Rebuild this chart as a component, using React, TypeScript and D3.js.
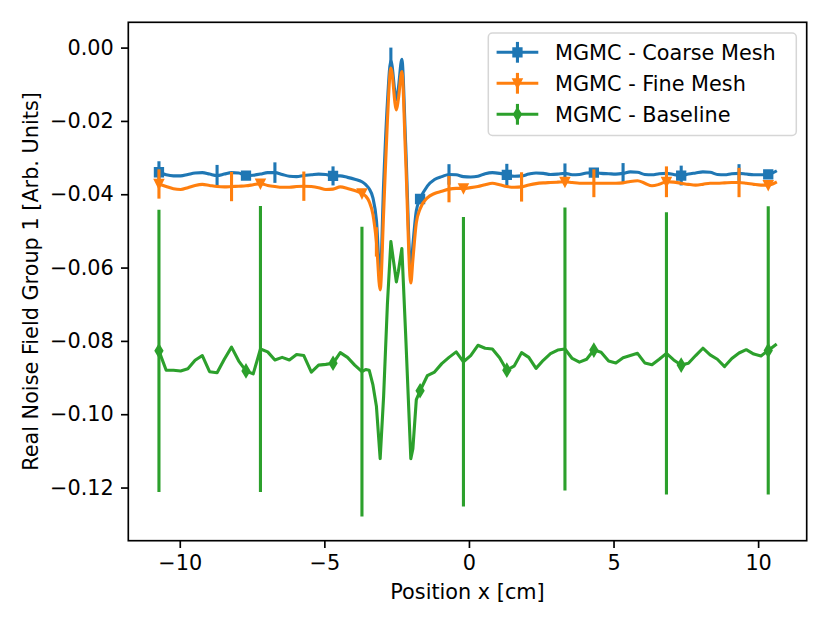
import React, { useEffect, useRef } from 'react';
import * as d3 from 'd3';

// positions along x [cm]; ~0.25 cm grid with a few extra points through the central dip
const positions = [
  -10.72, -10.47, -10.22, -9.97, -9.72, -9.47, -9.22, -8.97, -8.71, -8.46,
  -8.21, -7.96, -7.71, -7.46, -7.21, -6.96, -6.71, -6.46, -6.21, -5.96,
  -5.71, -5.45, -5.2, -4.95, -4.7, -4.45, -4.2, -3.95, -3.7, -3.57,
  -3.45, -3.32, -3.2, -3.07, -2.95, -2.82, -2.7, -2.51, -2.44, -2.32,
  -2.19, -2.01, -1.94, -1.82, -1.69, -1.44, -1.19, -0.94, -0.69, -0.44,
  -0.19, 0.06, 0.31, 0.56, 0.81, 1.06, 1.31, 1.57, 1.82, 2.07,
  2.32, 2.57, 2.82, 3.07, 3.32, 3.57, 3.82, 4.07, 4.32, 4.57,
  4.83, 5.08, 5.33, 5.58, 5.83, 6.08, 6.33, 6.58, 6.83, 7.08,
  7.34, 7.59, 7.84, 8.09, 8.34, 8.59, 8.84, 9.09, 9.34, 9.59,
  9.85, 10.1, 10.35, 10.6,
];

const coarse = [
  -0.0340, -0.0347, -0.0350, -0.0350, -0.0346, -0.0342, -0.0341, -0.0345, -0.0349, -0.0345,
  -0.0341, -0.0342, -0.0349, -0.0348, -0.0345, -0.0341, -0.0341, -0.0346, -0.0351, -0.0352,
  -0.0349, -0.0347, -0.0345, -0.0346, -0.0350, -0.0350, -0.0354, -0.0359, -0.0366, -0.0374,
  -0.0385, -0.0410, -0.0470, -0.0625, -0.0370, -0.0150, -0.0035, -0.0143, -0.0110, -0.0032,
  -0.0260, -0.0607, -0.0540, -0.0445, -0.0413, -0.0378, -0.0360, -0.0352, -0.0346, -0.0347,
  -0.0352, -0.0353, -0.0351, -0.0344, -0.0341, -0.0343, -0.0347, -0.0351, -0.0350, -0.0345,
  -0.0342, -0.0343, -0.0346, -0.0345, -0.0343, -0.0347, -0.0346, -0.0342, -0.0341, -0.0343,
  -0.0344, -0.0345, -0.0343, -0.0339, -0.0340, -0.0346, -0.0347, -0.0344, -0.0343, -0.0346,
  -0.0349, -0.0345, -0.0342, -0.0339, -0.0340, -0.0346, -0.0347, -0.0344, -0.0343, -0.0345,
  -0.0347, -0.0347, -0.0346, -0.0338,
];

const fine = [
  -0.0372, -0.0379, -0.0385, -0.0387, -0.0382, -0.0376, -0.0373, -0.0376, -0.0379, -0.0380,
  -0.0379, -0.0378, -0.0377, -0.0374, -0.0371, -0.0376, -0.0379, -0.0381, -0.0381, -0.0379,
  -0.0378, -0.0379, -0.0382, -0.0387, -0.0386, -0.0380, -0.0384, -0.0390, -0.0398, -0.0405,
  -0.0420, -0.0455, -0.0530, -0.0661, -0.0450, -0.0200, -0.0056, -0.0170, -0.0140, -0.0065,
  -0.0300, -0.0642, -0.0580, -0.0478, -0.0440, -0.0410, -0.0398, -0.0392, -0.0386, -0.0384,
  -0.0384, -0.0382, -0.0379, -0.0374, -0.0370, -0.0374, -0.0379, -0.0381, -0.0380, -0.0375,
  -0.0371, -0.0369, -0.0368, -0.0367, -0.0366, -0.0368, -0.0370, -0.0370, -0.0370, -0.0370,
  -0.0370, -0.0370, -0.0369, -0.0365, -0.0363, -0.0370, -0.0377, -0.0373, -0.0366, -0.0367,
  -0.0370, -0.0373, -0.0375, -0.0373, -0.0370, -0.0370, -0.0369, -0.0368, -0.0368, -0.0370,
  -0.0373, -0.0375, -0.0375, -0.0368,
];

const baseline = [
  -0.0827, -0.0880, -0.0880, -0.0882, -0.0876, -0.0853, -0.0840, -0.0884, -0.0887, -0.0850,
  -0.0817, -0.0855, -0.0882, -0.0890, -0.0822, -0.0830, -0.0852, -0.0845, -0.0852, -0.0837,
  -0.0840, -0.0885, -0.0866, -0.0864, -0.0861, -0.0832, -0.0845, -0.0866, -0.0884, -0.0878,
  -0.0880, -0.0920, -0.0978, -0.1121, -0.0950, -0.0700, -0.0529, -0.0639, -0.0610, -0.0548,
  -0.0780, -0.1121, -0.1095, -0.0960, -0.0936, -0.0895, -0.0885, -0.0862, -0.0845, -0.0830,
  -0.0857, -0.0840, -0.0812, -0.0820, -0.0822, -0.0846, -0.0880, -0.0868, -0.0832, -0.0845,
  -0.0875, -0.0853, -0.0835, -0.0825, -0.0822, -0.0848, -0.0858, -0.0850, -0.0825, -0.0831,
  -0.0855, -0.0860, -0.0846, -0.0840, -0.0834, -0.0860, -0.0865, -0.0850, -0.0834, -0.0852,
  -0.0866, -0.0861, -0.0840, -0.0820, -0.0838, -0.0850, -0.0870, -0.0848, -0.0833, -0.0824,
  -0.0836, -0.0841, -0.0826, -0.0811,
];

// where markers and error bars sit, and the half-widths of the bars
const coarseMarkX = [-10.72, -7.71, -4.7, -1.69, 1.31, 4.32, 7.34, 10.35];
const coarseErrX = [-10.72, -8.71, -6.71, -4.7, -2.7, -0.69, 1.31, 3.32, 5.33, 7.34, 9.34];
const coarseErr = [0.003, 0.0029, 0.0028, 0.0026, 0.0035, 0.0028, 0.003, 0.0027, 0.0028, 0.0027, 0.0025];

const fineMarkX = [-10.72, -7.21, -3.7, -0.19, 3.32, 6.83, 10.35];
const fineErrX = [-10.72, -8.21, -5.71, -3.2, -0.69, 1.82, 4.32, 6.83, 9.34];
const fineErr = [0.004, 0.004, 0.004, 0.004, 0.0036, 0.004, 0.0038, 0.0042, 0.004];

const baseMarkX = [-10.72, -7.71, -4.7, -1.69, 1.31, 4.32, 7.34, 10.35];
const baseErrX = [-10.72, -7.21, -3.7, -0.19, 3.32, 6.83, 10.35];
const baseErr = [0.0385, 0.039, 0.0395, 0.0395, 0.0386, 0.0385, 0.0393];

const xTicks = [-10, -5, 0, 5, 10];
const yTicks = [0, -0.02, -0.04, -0.06, -0.08, -0.1, -0.12];

const width = 830;
const height = 623;
const plot = { left: 128.3, right: 806.7, top: 22.3, bottom: 540.7 };
const FONT = "'DejaVu Sans', sans-serif";
const FS = 20.8;
const LW = 3.1;

const markerPath = (kind: string) => {
  if (kind === 'square') return 'M-4.15,-4.15H4.15V4.15H-4.15Z';
  if (kind === 'tri') return 'M0,4.15L-4.15,-4.15L4.15,-4.15Z';
  return 'M0,-5.9L3.5,0L0,5.9L-3.5,0Z';
};

const App: React.FC = () => {
  const svgRef = useRef<SVGSVGElement>(null);

  useEffect(() => {
    const svg = d3.select(svgRef.current);
    svg.selectAll('*').remove();

    const x = d3.scaleLinear().domain([-11.78, 11.68]).range([plot.left, plot.right]);
    const y = d3.scaleLinear().domain([-0.1345, 0.0069]).range([plot.bottom, plot.top]);

    const series = [
      { name: 'MGMC - Coarse Mesh', color: '#1f77b4', values: coarse, marker: 'square',
        markX: coarseMarkX, errX: coarseErrX, err: coarseErr, curve: d3.curveMonotoneX },
      { name: 'MGMC - Fine Mesh', color: '#ff7f0e', values: fine, marker: 'tri',
        markX: fineMarkX, errX: fineErrX, err: fineErr, curve: d3.curveMonotoneX },
      { name: 'MGMC - Baseline', color: '#2ca02c', values: baseline, marker: 'diamond',
        markX: baseMarkX, errX: baseErrX, err: baseErr, curve: d3.curveLinear },
    ];

    const valueAt = (vals: number[], xv: number) =>
      vals[d3.minIndex(positions, p => Math.abs(p - xv))];

    series.forEach(s => {
      const g = svg.append('g');

      g.selectAll('line')
        .data(s.errX)
        .join('line')
        .attr('x1', d => x(d))
        .attr('x2', d => x(d))
        .attr('y1', (d, i) => y(valueAt(s.values, d) + s.err[i]))
        .attr('y2', (d, i) => y(valueAt(s.values, d) - s.err[i]))
        .attr('stroke', s.color)
        .attr('stroke-width', LW);

      const line = d3.line<number>()
        .x((_, i) => x(positions[i]))
        .y(d => y(d))
        .curve(s.curve);

      g.append('path')
        .datum(s.values)
        .attr('d', line)
        .attr('fill', 'none')
        .attr('stroke', s.color)
        .attr('stroke-width', LW)
        .attr('stroke-linejoin', 'round')
        .attr('stroke-linecap', 'square');

      g.selectAll('path.mk')
        .data(s.markX)
        .join('path')
        .attr('class', 'mk')
        .attr('transform', d => `translate(${x(d)},${y(valueAt(s.values, d))})`)
        .attr('d', markerPath(s.marker))
        .attr('fill', s.color)
        .attr('stroke', s.color)
        .attr('stroke-width', 2);
    });

    // axes
    const xAxis = svg.append('g')
      .attr('transform', `translate(0,${plot.bottom})`)
      .call(d3.axisBottom(x).tickValues(xTicks).tickSize(7.3).tickPadding(7.3).tickFormat(d3.format('d')));
    const yAxis = svg.append('g')
      .attr('transform', `translate(${plot.left},0)`)
      .call(d3.axisLeft(y).tickValues(yTicks).tickSize(7.3).tickPadding(7.3).tickFormat(d3.format('.2f')));

    [xAxis, yAxis].forEach(a => {
      a.select('.domain').remove();
      a.attr('font-size', FS).attr('font-family', FONT);
      a.selectAll('line').attr('stroke', '#000').attr('stroke-width', 1.67);
      a.selectAll('text').attr('fill', '#000');
    });

    svg.append('rect')
      .attr('x', plot.left)
      .attr('y', plot.top)
      .attr('width', plot.right - plot.left)
      .attr('height', plot.bottom - plot.top)
      .attr('fill', 'none')
      .attr('stroke', '#000')
      .attr('stroke-width', 1.67);

    svg.append('text')
      .attr('x', (plot.left + plot.right) / 2)
      .attr('y', 599)
      .attr('text-anchor', 'middle')
      .attr('font-family', FONT)
      .attr('font-size', FS)
      .text('Position x [cm]');

    svg.append('text')
      .attr('transform', `translate(38,${(plot.top + plot.bottom) / 2}) rotate(-90)`)
      .attr('text-anchor', 'middle')
      .attr('font-family', FONT)
      .attr('font-size', FS)
      .text('Real Noise Field Group 1 [Arb. Units]');

    // legend
    const leg = svg.append('g');
    leg.append('rect')
      .attr('x', 488.3)
      .attr('y', 33)
      .attr('width', 308)
      .attr('height', 102.5)
      .attr('rx', 4.2)
      .attr('fill', '#fff')
      .attr('fill-opacity', 0.8)
      .attr('stroke', '#ccc')
      .attr('stroke-opacity', 0.8)
      .attr('stroke-width', 1.5);

    series.forEach((s, i) => {
      const cy = 52.3 + i * 31;
      const hx0 = 496.6;
      const hx1 = 538.3;
      const cx = (hx0 + hx1) / 2;
      leg.append('line')
        .attr('x1', hx0).attr('x2', hx1).attr('y1', cy).attr('y2', cy)
        .attr('stroke', s.color).attr('stroke-width', LW);
      leg.append('line')
        .attr('x1', cx).attr('x2', cx).attr('y1', cy - 10.4).attr('y2', cy + 10.4)
        .attr('stroke', s.color).attr('stroke-width', LW);
      leg.append('path')
        .attr('transform', `translate(${cx},${cy})`)
        .attr('d', markerPath(s.marker))
        .attr('fill', s.color)
        .attr('stroke', s.color)
        .attr('stroke-width', 2);
      leg.append('text')
        .attr('x', 555)
        .attr('y', cy + 7.6)
        .attr('font-family', FONT)
        .attr('font-size', FS)
        .text(s.name);
    });
  }, []);

  return (
    <svg
      ref={svgRef}
      width={width}
      height={height}
      style={{ position: 'absolute', left: 0, top: 0, background: '#fff' }}
    />
  );
};

export default App;
